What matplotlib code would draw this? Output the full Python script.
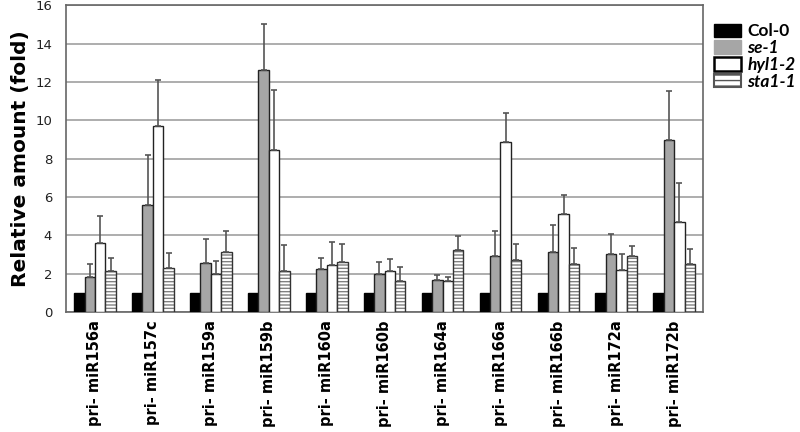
import numpy as np
import matplotlib
matplotlib.use('Agg')
import matplotlib.pyplot as plt
from matplotlib.patches import Patch

genes = ['pri- miR156a', 'pri- miR157c', 'pri- miR159a', 'pri- miR159b', 'pri- miR160a',
         'pri- miR160b', 'pri- miR164a', 'pri- miR166a', 'pri- miR166b', 'pri- miR172a',
         'pri- miR172b']
col0 = [1, 1, 1, 1, 1, 1, 1, 1, 1, 1, 1]
se1 = [1.8, 5.6, 2.55, 12.6, 2.25, 2.0, 1.65, 2.9, 3.1, 3.0, 8.95]
hyl1 = [3.6, 9.7, 2.0, 8.45, 2.45, 2.15, 1.6, 8.85, 5.1, 2.2, 4.7]
sta1 = [2.15, 2.3, 3.1, 2.15, 2.6, 1.6, 3.25, 2.7, 2.5, 2.9, 2.5]
# upper end of the error bars
se1_top = [2.5, 8.2, 3.8, 15.0, 2.8, 2.6, 1.95, 4.2, 4.55, 4.05, 11.5]
hyl1_top = [5.0, 12.1, 2.65, 11.6, 3.65, 2.75, 1.8, 10.35, 6.1, 3.0, 6.75]
sta1_top = [2.8, 3.05, 4.2, 3.5, 3.55, 2.35, 3.95, 3.55, 3.35, 3.45, 3.3]

plt.rcParams['hatch.linewidth'] = 1.0
fig = plt.figure(figsize=(8, 4.32), dpi=100)
ax = fig.add_axes([0.0825, 0.278, 0.7965, 0.71])

x = np.arange(len(genes))
w = 0.18
ecol = '#555555'

ax.bar(x - 1.5 * w, col0, w, color='black', edgecolor='black', zorder=3)

series = [(se1, se1_top, '#a6a6a6', None),
          (hyl1, hyl1_top, 'white', None),
          (sta1, sta1_top, 'white', '-----')]
for i, (vals, tops, fc, hatch) in enumerate(series):
    pos = x + (i - 0.5) * w
    vals = np.array(vals)
    up = np.array(tops) - vals
    if hatch:
        ax.bar(pos, vals, w, color=fc, edgecolor='#808080', hatch=hatch, linewidth=0, zorder=3)
        ax.bar(pos, vals, w, fill=False, edgecolor='#333333', linewidth=1, zorder=3)
    else:
        ax.bar(pos, vals, w, color=fc, edgecolor='#222222', linewidth=1, zorder=3)
    ax.errorbar(pos, vals, yerr=[np.zeros_like(up), up], fmt='none', ecolor=ecol,
                elinewidth=1.2, capsize=2.5, capthick=1.2, zorder=4)

ax.set_ylim(0, 16)
ax.set_yticks(range(0, 17, 2))
ax.set_xlim(-0.5, len(genes) - 0.5)
ax.yaxis.grid(True, color='#a0a0a0', linewidth=1.2, zorder=0)
ax.set_axisbelow(True)
for s in ax.spines.values():
    s.set_color('#666666')
    s.set_linewidth(1.2)
ax.tick_params(axis='both', length=0)
ax.tick_params(axis='y', labelsize=9.5, pad=10, labelcolor='#222222')
ax.tick_params(axis='x', pad=6)
ax.set_xticks(x)
ax.set_xticklabels(genes, rotation=90, fontsize=10.5, fontweight='bold')
ax.set_ylabel('Relative amount (fold)', fontsize=14.5, fontweight='bold', labelpad=4)

handles = [Patch(facecolor='black', edgecolor='black', label='Col-0'),
           Patch(facecolor='#a6a6a6', edgecolor='#a6a6a6', label='se-1'),
           Patch(facecolor='white', edgecolor='black', linewidth=1.8, label='hyl1-2'),
           Patch(facecolor='white', edgecolor='#555555', hatch='---', linewidth=1.5, label='sta1-1')]
leg = ax.legend(handles=handles, loc='upper left', bbox_to_anchor=(1.0, 0.975), frameon=False,
                prop={'family': 'Lato', 'size': 12.5, 'weight': 'bold'},
                handlelength=1.6, handleheight=0.8, handletextpad=0.35,
                labelspacing=0.05, borderaxespad=0.2)
for t in leg.get_texts():
    if t.get_text() != 'Col-0':
        t.set_fontstyle('italic')

fig.savefig('out.png', dpi=100)
